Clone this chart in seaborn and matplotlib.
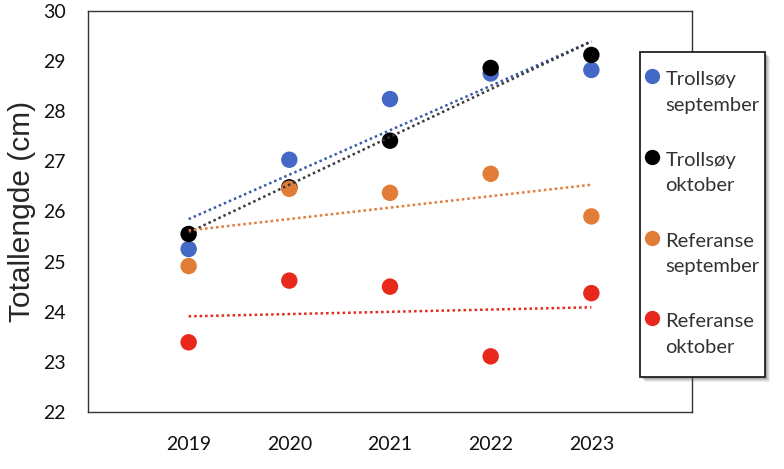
import numpy as np
import pandas as pd
import matplotlib
matplotlib.use('Agg')
import matplotlib.pyplot as plt
import seaborn as sns
from matplotlib.lines import Line2D
from matplotlib.patches import Rectangle
from matplotlib.legend_handler import HandlerLine2D

# values
years = [2019, 2020, 2021, 2022, 2023]
trollsoy_sep = [25.25, 27.03, 28.24, 28.75, 28.82]
trollsoy_okt = [25.55, 26.48, 27.41, 28.86, 29.12]
referanse_sep = [24.91, 26.45, 26.37, 26.75, 25.90]
referanse_okt = [23.39, 24.62, 24.50, 23.11, 24.37]

series_names = ['Trollsøy\nseptember', 'Trollsøy\noktober',
                'Referanse\nseptember', 'Referanse\noktober']
marker_colors = ['#4468C6', '#000000', '#E17D37', '#E8281C']
line_colors = ['#3B5BA9', '#3A3A3A', '#E07B39', '#E02A1E']
x_ticks = [2018, 2019, 2020, 2021, 2022, 2023, 2024]
x_labels = ['', '2019', '2020', '2021', '2022', '2023', '']
y_ticks = [22, 23, 24, 25, 26, 27, 28, 29, 30]


class FirstLineHandler(HandlerLine2D):
    # put the legend marker next to the first line of a two-line label
    def create_artists(self, legend, orig_handle, xdescent, ydescent,
                       width, height, fontsize, trans):
        artists = super().create_artists(legend, orig_handle, xdescent, ydescent,
                                         width, height, fontsize, trans)
        for a in artists:
            a.set_ydata(np.asarray(a.get_ydata()) + 0.8 * fontsize)
        return artists


def main():
    values = [trollsoy_sep, trollsoy_okt, referanse_sep, referanse_okt]
    df = pd.DataFrame({
        'year': years * len(series_names),
        'length': [v for vals in values for v in vals],
        'serie': [n for n in series_names for _ in years],
    })

    sns.set_theme(style='white')
    plt.rcParams['font.family'] = ['Lato', 'DejaVu Sans']

    fig, ax = plt.subplots(figsize=(7.84, 4.69), dpi=100)
    fig.subplots_adjust(left=0.1122, right=0.8827, bottom=0.1215, top=0.977)

    for i, name in enumerate(series_names):
        sub = df[df['serie'] == name]
        sns.scatterplot(data=sub, x='year', y='length', color=marker_colors[i],
                        s=140, edgecolor='none', linewidth=0, ax=ax, zorder=3 + i)
    for i, name in enumerate(series_names):
        sub = df[df['serie'] == name]
        sns.regplot(data=sub, x='year', y='length', scatter=False, ci=None,
                    color=line_colors[i], ax=ax,
                    line_kws=dict(linestyle=(0, (1, 1.2)), linewidth=1.8, zorder=8))

    ax.set_xlim(2018, 2024)
    ax.set_ylim(22, 30)
    ax.set_xticks(x_ticks)
    ax.set_xticklabels(x_labels)
    ax.set_yticks(y_ticks)
    ax.set_xlabel('')
    ax.set_ylabel('Totallengde (cm)', fontsize=21.5, family=['Liberation Sans'], labelpad=5)

    for sp in ax.spines.values():
        sp.set_visible(True)
        sp.set_color('#333333')
        sp.set_linewidth(1.0)
    ax.tick_params(axis='both', direction='out', length=6, width=1, color='#333333',
                   labelsize=14, labelcolor='#111111')
    ax.tick_params(axis='x', pad=11)
    ax.tick_params(axis='y', pad=10)

    # legend box with soft shadow (drawn in figure coords)
    bx, by, bw, bh = 0.8163, 0.1962, 0.1594, 0.693
    for k, a in enumerate([0.10, 0.12, 0.16, 0.22]):
        off = (5 - k) / 784
        fig.patches.append(Rectangle((bx + off, by - off * 784 / 469), bw, bh,
                                     transform=fig.transFigure, facecolor='#555555',
                                     edgecolor='none', alpha=a, zorder=9))
    fig.patches.append(Rectangle((bx, by), bw, bh, transform=fig.transFigure,
                                 facecolor='white', edgecolor='#222222',
                                 linewidth=1.3, zorder=10))

    handles = [Line2D([], [], marker='o', linestyle='none', color=c, markersize=10)
               for c in marker_colors]
    leg = fig.legend(handles, series_names, loc='center',
                     bbox_to_anchor=(bx + bw / 2, by + bh / 2 + 0.002),
                     borderaxespad=0, frameon=False, fontsize=14.5,
                     handlelength=0.7, handletextpad=0.3, borderpad=0.2,
                     labelspacing=1.9,
                     handler_map={Line2D: FirstLineHandler()})
    leg.set_zorder(11)
    for t in leg.get_texts():
        t.set_color('#333333')
        t.set_linespacing(1.6)

    fig.savefig('out.png', dpi=100)


if __name__ == '__main__':
    main()
